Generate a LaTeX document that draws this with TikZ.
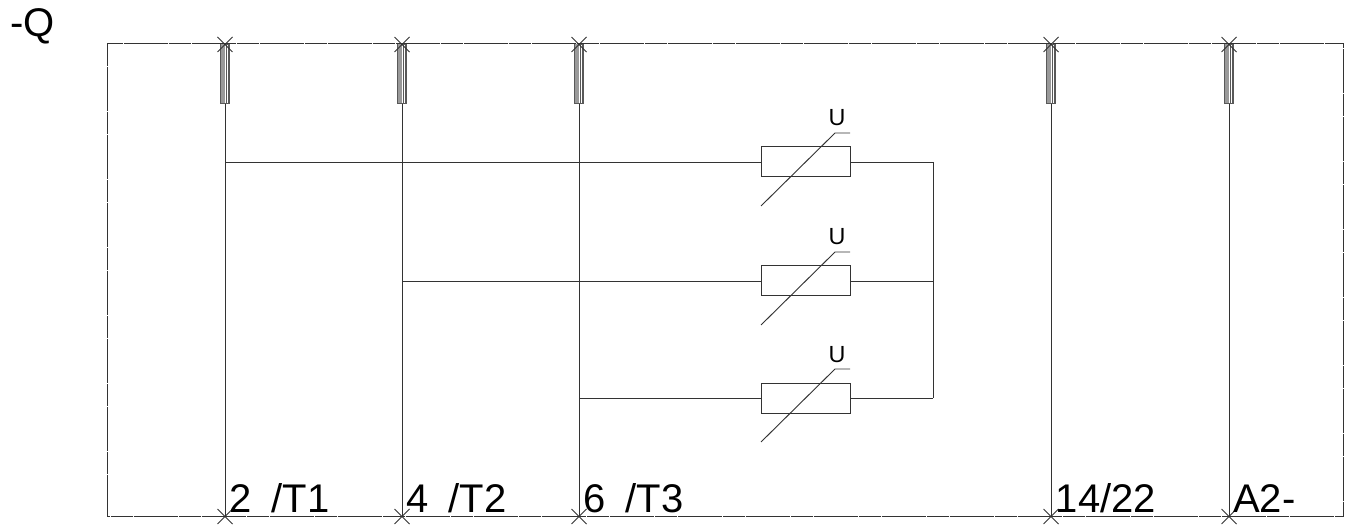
\documentclass[tikz,border=0pt]{standalone}
\usepackage{fontspec}
\setmainfont{Liberation Sans}
\usetikzlibrary{calc}
\newcommand{\fs}[1]{\fontsize{#1}{#1}\selectfont}
\tikzset{
  x=0.75pt,y=-0.75pt,
  wire/.style={draw=black!80,line width=0.7pt},
  frameline/.style={draw=black!80,line width=0.75pt,dash pattern=on 16.5pt off 0.5pt},
  fuse/.style={draw=black!65,line width=0.55pt,minimum width=7.2pt,minimum height=44.25pt,inner sep=0pt,outer sep=0pt,fill=white},
  var/.style={draw=black!80,line width=0.75pt,minimum width=66.75pt,minimum height=22.5pt,inner sep=0pt,outer sep=0pt,fill=white},
  big/.style={font=\fs{30pt},anchor=base west,inner sep=0pt,text=black},
  small/.style={font=\fs{17.5pt},anchor=base,inner sep=0pt,text=black},
}
\begin{document}
\begin{tikzpicture}
\useasboundingbox (0,0) rectangle (1353,527);
\draw[frameline] (107,44) rectangle (1343,516);
\foreach \n/\x in {a/225,b/402,c/579,d/1051,e/1229}{
  \coordinate (t\n) at (\x,44);
  \coordinate (u\n) at (\x,516);
  \draw[wire] (t\n) -- (u\n);
  \node[fuse] (f\n) at (\x,73.5) {};
  \fill[black!40] (\x-4.5,44) rectangle (\x-0.5,103);
  \foreach \d in {1.5,3.5}{\draw[black!65,line width=0.4pt] (\x+\d,44) -- (\x+\d,103);}
  \draw[wire,line width=0.55pt] (\x-7.5,37) -- (\x+7.5,52) (\x+7.5,37) -- (\x-7.5,52);
  \draw[wire,line width=0.55pt] (\x-7.5,509) -- (\x+7.5,524) (\x+7.5,509) -- (\x-7.5,524);
}
\coordinate (bus) at (933,162);
\coordinate (busb) at (933,398);
\draw[wire] (bus) -- (busb);
\foreach \n/\x/\y in {a/225/162,b/402/281,c/579/398}{
  \node[var] (r\n) at (805.5,\y) {};
  \coordinate (j\n) at (\x,\y);
  \coordinate (k\n) at (933,\y);
  \draw[wire] (j\n) -- (r\n.west);
  \draw[wire] (r\n.east) -- (k\n);
  \coordinate (s\n) at (761,\y+44);
  \coordinate (m\n) at (835,\y-29);
  \coordinate (h\n) at (850,\y-29);
  \draw[wire] (s\n) -- (m\n) -- (h\n);
  \node[small] (l\n) at (837,\y-36) {U};
}
\node[big] (q) at (10,36.5) {-Q};
\node[big] (n1) at (229,512) {2\hspace{15pt}/T1};
\node[big] (n2) at (406,512) {4\hspace{15pt}/T2};
\node[big] (n3) at (583,512) {6\hspace{15pt}/T3};
\node[big] (n4) at (1055.5,512) {14/22};
\node[big] (n5) at (1233,512) {A2-};
\end{tikzpicture}
\end{document}
